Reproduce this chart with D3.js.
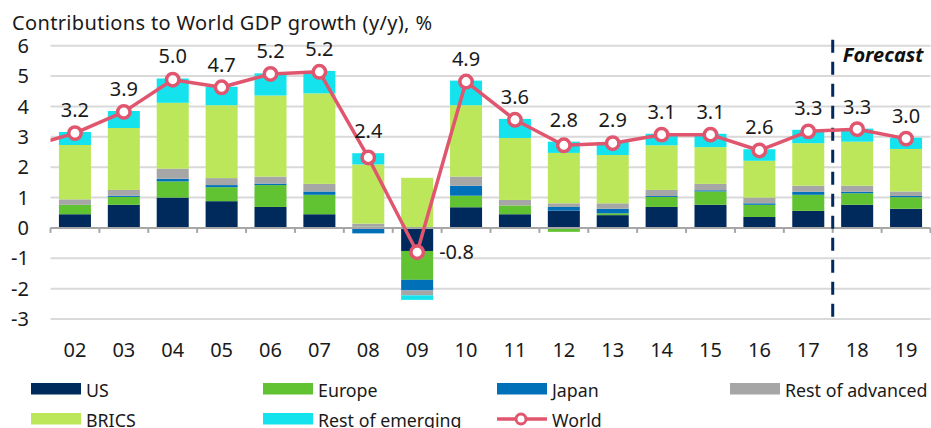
<!DOCTYPE html>
<html><head><meta charset="utf-8">
<script src="https://cdn.jsdelivr.net/npm/d3@7"></script>
<style>
html,body{margin:0;padding:0;background:#fff;}
svg{display:block;font-family:"Noto Sans","Open Sans",sans-serif;}
</style></head>
<body>
<svg id="chart" width="931" height="428"></svg>
<script>
const years = ["02","03","04","05","06","07","08","09","10","11","12","13","14","15","16","17","18","19"];
const us      = [0.45,0.76,1.00,0.88,0.69,0.45,0.00,-0.76,0.68,0.45,0.57,0.42,0.69,0.76,0.36,0.56,0.76,0.63];
const europe  = [0.31,0.26,0.53,0.46,0.72,0.64,0.04,-0.95,0.38,0.29,-0.13,0.06,0.33,0.44,0.40,0.53,0.38,0.38];
const japan   = [0.00,0.04,0.09,0.07,0.05,0.11,-0.18,-0.35,0.33,0.00,0.12,0.15,0.03,0.04,0.05,0.10,0.05,0.04];
const restAdv = [0.18,0.19,0.33,0.23,0.23,0.25,0.10,-0.16,0.30,0.18,0.12,0.18,0.20,0.21,0.19,0.20,0.20,0.15];
const brics   = [1.79,2.04,2.17,2.40,2.67,2.98,1.95,1.65,2.35,2.04,1.66,1.59,1.47,1.21,1.21,1.40,1.45,1.40];
const restEm  = [0.43,0.56,0.80,0.61,0.73,0.74,0.37,-0.15,0.81,0.63,0.37,0.43,0.38,0.44,0.38,0.44,0.43,0.37];
const world   = [3.12,3.82,4.88,4.63,5.07,5.14,2.32,-0.80,4.82,3.56,2.72,2.79,3.07,3.07,2.55,3.18,3.25,2.94];
const worldLabels = ["3.2","3.9","5.0","4.7","5.2","5.2","2.4","-0.8","4.9","3.6","2.8","2.9","3.1","3.1","2.6","3.3","3.3","3.0"];
const worldPrevYear = 2.65; // 2001, only partly visible at the left edge
const yTicks = [6,5,4,3,2,1,0,-1,-2,-3];
const forecastStart = "18";
const seriesNames = ["US","Europe","Japan","Rest of advanced","BRICS","Rest of emerging"];
const seriesColors = ["#002a5c","#62c332","#0070b8","#a6a6a6","#bde75b","#14e3ee"];
const worldColor = "#e0566e";
const titleText = "Contributions to World GDP growth (y/y), %";

const seriesValues = [us, europe, japan, restAdv, brics, restEm];
const rows = years.map((y,i)=>{const r={year:y}; seriesNames.forEach((n,k)=>r[n]=seriesValues[k][i]); return r;});

const svg = d3.select("#chart");
const left = 50.5, right = 930.5;
const x = d3.scaleBand().domain(years).range([left,right]).paddingInner(0.345).paddingOuter(0.1725);
const y = d3.scaleLinear().domain([-3,6]).range([319,45.7]);
const step = x.step();

// title
svg.append("text").attr("x",12).attr("y",30).attr("font-size",20).attr("fill","#1a1a1a")
  .attr("textLength",420).attr("lengthAdjust","spacing").text(titleText);

// gridlines
svg.append("g").selectAll("line").data(yTicks.filter(t=>t!==0)).join("line")
  .attr("x1",left).attr("x2",right).attr("y1",d=>y(d)).attr("y2",d=>y(d))
  .attr("stroke","#d9d9d9").attr("stroke-width",2);

// y labels
svg.append("g").selectAll("text").data(yTicks).join("text")
  .attr("x",29).attr("y",d=>y(d)).attr("dy","0.36em").attr("text-anchor","end")
  .attr("font-size",20).attr("fill","#1a1a1a").text(d=>d);

// stacked bars
const stack = d3.stack().keys(seriesNames).offset(d3.stackOffsetDiverging);
const stacked = stack(rows);
svg.append("g").selectAll("g").data(stacked).join("g")
  .attr("fill",(d,i)=>seriesColors[i])
  .selectAll("rect").data(d=>d).join("rect")
  .attr("x",d=>x(d.data.year)).attr("width",x.bandwidth())
  .attr("y",d=>y(Math.max(d[0],d[1]))).attr("height",d=>Math.abs(y(d[0])-y(d[1])));

// x axis line and ticks
const axisG = svg.append("g");
axisG.append("line").attr("x1",left).attr("x2",right).attr("y1",y(0)).attr("y2",y(0))
  .attr("stroke","#a6a6a6").attr("stroke-width",2);
const boundaries = years.map(yr=>x(yr)-x.paddingOuter()*step).concat([right]);
axisG.selectAll("line.tick").data(boundaries).join("line").attr("class","tick")
  .attr("x1",d=>d).attr("x2",d=>d).attr("y1",y(0)).attr("y2",y(0)+5)
  .attr("stroke","#a6a6a6").attr("stroke-width",2);
axisG.selectAll("text").data(years).join("text")
  .attr("x",d=>x(d)+x.bandwidth()/2).attr("y",357).attr("text-anchor","middle")
  .attr("font-size",20).attr("fill","#1a1a1a").text(d=>d);

// forecast divider
const fx = x(forecastStart)-x.paddingInner()*step/2;
svg.append("line").attr("x1",fx).attr("x2",fx).attr("y1",y(6.2)).attr("y2",y(-3))
  .attr("stroke","#002a5c").attr("stroke-width",3).attr("stroke-dasharray","13,9");
svg.append("text").attr("x",fx+10).attr("y",62).attr("font-size",20).attr("font-weight","bold")
  .attr("font-style","italic").attr("fill","#111").text("Forecast");

// world line
const cx = yr=>x(yr)+x.bandwidth()/2;
svg.append("defs").append("clipPath").attr("id","plotclip").append("rect")
  .attr("x",left).attr("y",0).attr("width",right-left).attr("height",428);
const linePts = [[cx(years[0])-step, y(worldPrevYear)]].concat(years.map((yr,i)=>[cx(yr), y(world[i])]));
svg.append("path").attr("d",d3.line()(linePts)).attr("fill","none").attr("stroke",worldColor)
  .attr("stroke-width",3.5).attr("stroke-linejoin","round").attr("clip-path","url(#plotclip)");
svg.append("g").selectAll("circle").data(years).join("circle")
  .attr("cx",d=>cx(d)).attr("cy",(d,i)=>y(world[i])).attr("r",6.2)
  .attr("fill","#fff").attr("stroke",worldColor).attr("stroke-width",3.5);

// world labels
svg.append("g").selectAll("text").data(years).join("text")
  .attr("font-size",20).attr("fill","#1a1a1a")
  .each(function(d,i){
    const t = d3.select(this);
    if (world[i] < 0) {
      t.attr("x",cx(d)+22).attr("y",y(world[i])).attr("dy","0.36em").attr("text-anchor","start");
    } else {
      let top = Math.min(y(world[i]), y(0));
      stacked.forEach(s=>{ top = Math.min(top, y(s[i][1])); });
      t.attr("x",cx(d)).attr("y",top-15).attr("text-anchor","middle");
    }
    t.text(worldLabels[i]);
  });

// legend
const legendItems = seriesNames.map((n,i)=>({name:n,color:seriesColors[i],type:"bar"}))
  .concat([{name:"World",color:worldColor,type:"line"}]);
const colX = [31,263,497,730];
const rowY = [383,413];
const lg = svg.append("g").selectAll("g").data(legendItems).join("g")
  .attr("transform",(d,i)=>`translate(${colX[i%4]},${rowY[Math.floor(i/4)]})`);
lg.filter(d=>d.type==="bar").append("rect").attr("width",50).attr("height",11.5).attr("fill",d=>d.color);
const lw = lg.filter(d=>d.type==="line");
lw.append("line").attr("x1",0).attr("x2",50).attr("y1",6).attr("y2",6).attr("stroke",d=>d.color).attr("stroke-width",3.5);
lw.append("circle").attr("cx",24).attr("cy",6).attr("r",5).attr("fill","#fff").attr("stroke",d=>d.color).attr("stroke-width",3);
lg.append("text").attr("x",55).attr("y",13.5).attr("font-size",17.8).attr("fill","#1a1a1a").text(d=>d.name);
</script>
</body></html>
